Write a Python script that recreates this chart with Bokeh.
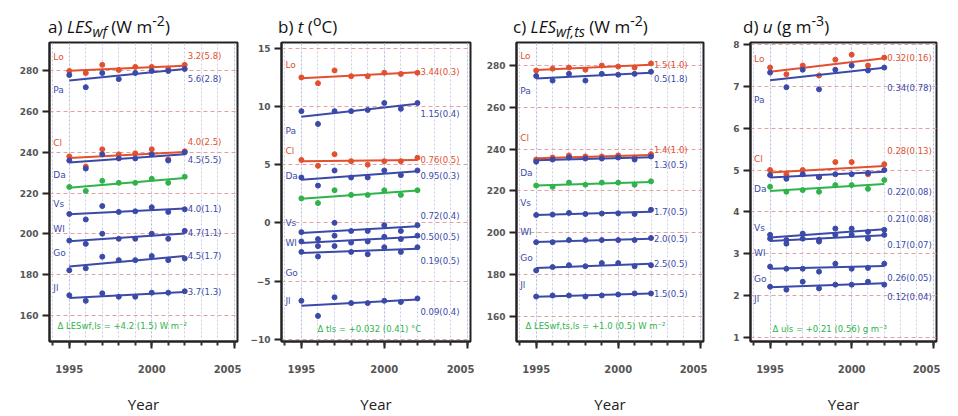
import numpy as np
from bokeh.plotting import figure
from bokeh.models import Div, SingleIntervalTicker, Range1d, ColumnDataSource, Label, Spacer
from bokeh.layouts import row, column
from bokeh.embed import file_html
from bokeh.resources import INLINE
from bokeh.core.properties import value

years = [1995, 1996, 1997, 1998, 1999, 2000, 2001, 2002]
named_sites = ["Lo", "Pa", "Cl", "Da", "Vs", "Wl", "Go", "Jl"]
all_sites = ["Lo", "Pa", "Cl", "Da", "mean", "Vs", "Wl", "Go", "Jl"]

# a) LES_wf (W m-2)
les_wf = {
    "Lo": [280, 279, 283, 280.5, 282, 282, 281, 283],
    "Pa": [278, 272, 279, 276, 279, 280, 280, 281],
    "Cl": [238, 233, 241.5, 239, 239.5, 241.5, 236.5, 240.5],
    "Da": [236, 232, 239, 237, 237, 239, 236, 240],
    "mean": [223, 221, 226, 225, 225, 227, 225, 228],
    "Vs": [209.7, 207, 213.6, 210.7, 211, 213, 210.7, 212],
    "Wl": [196.6, 195, 200, 197.5, 197.5, 200, 197.5, 201.4],
    "Go": [182, 183, 188.7, 187, 187, 189, 187, 187.8],
    "Jl": [169.7, 167, 170.7, 169, 169, 171, 171, 171.7],
}
les_wf_trend = ["3.2(5.8)", "5.6(2.8)", "4.0(2.5)", "4.5(5.5)", "4.0(1.1)", "4.7(1.1)", "4.5(1.7)", "3.7(1.3)"]

# b) t (degC)
temp = {
    "Lo": [12.5, 12.0, 13.1, 12.6, 12.6, 12.9, 12.8, 12.9],
    "Pa": [9.6, 8.5, 9.6, 9.6, 9.7, 10.3, 9.8, 10.3],
    "Cl": [5.4, 4.9, 5.9, 5.3, 5.0, 5.3, 5.3, 5.6],
    "Da": [3.9, 3.2, 4.5, 3.9, 3.9, 4.5, 4.1, 4.5],
    "mean": [2.1, 1.7, 2.8, 2.4, 2.4, 2.8, 2.4, 2.8],
    "Vs": [-0.8, -1.4, 0.0, -0.7, -0.7, -0.2, -0.7, -0.2],
    "Wl": [-1.6, -2.0, -1.1, -1.7, -1.6, -1.2, -1.4, -1.1],
    "Go": [-2.5, -2.9, -2.0, -2.5, -2.7, -2.1, -2.5, -2.1],
    "Jl": [-6.7, -8.0, -6.4, -6.9, -6.9, -6.7, -6.8, -6.5],
}
temp_trend = ["3.44(0.3)", "1.15(0.4)", "0.76(0.5)", "0.95(0.3)", "0.72(0.4)", "0.50(0.5)", "0.19(0.5)", "0.09(0.4)"]

# c) LES_wf,ts (W m-2)
les_wfts = {
    "Lo": [277.6, 278.5, 279, 278, 280, 279.5, 279, 281],
    "Pa": [275, 272.8, 276, 272.8, 276, 275.6, 276, 277],
    "Cl": [235, 236, 237, 236.5, 236.5, 237, 236, 237.6],
    "Da": [234, 235, 236, 235.5, 235.5, 236, 235, 236.5],
    "mean": [222.6, 222, 224, 223, 224, 224, 223, 224.6],
    "Vs": [208.5, 208.7, 209.5, 209, 209.2, 209.3, 209, 211],
    "Wl": [195.5, 195.5, 196.5, 196.5, 196.5, 196.5, 196.5, 197.5],
    "Go": [182, 183.6, 184.5, 184, 185.5, 185.5, 184, 184.5],
    "Jl": [169.5, 170, 170, 169.5, 170, 170.5, 171, 171],
}
les_wfts_trend = ["1.5(1.0)", "0.5(1.8)", "1.4(1.0)", "1.3(0.5)", "1.7(0.5)", "2.0(0.5)", "2.5(0.5)", "1.5(0.5)"]

# d) u (g m-3)
hum = {
    "Lo": [7.45, 7.29, 7.5, 7.26, 7.64, 7.76, 7.5, 7.69],
    "Pa": [7.33, 6.98, 7.4, 6.93, 7.4, 7.5, 7.38, 7.45],
    "Cl": [5.0, 4.9, 5.0, 4.83, 5.19, 5.19, 4.9, 5.14],
    "Da": [4.88, 4.79, 4.9, 4.83, 4.9, 4.9, 4.93, 5.0],
    "mean": [4.6, 4.48, 4.52, 4.48, 4.64, 4.64, 4.55, 4.76],
    "Vs": [3.45, 3.33, 3.48, 3.33, 3.6, 3.6, 3.52, 3.57],
    "Wl": [3.36, 3.24, 3.36, 3.29, 3.45, 3.45, 3.36, 3.45],
    "Go": [2.69, 2.64, 2.64, 2.57, 2.76, 2.64, 2.66, 2.76],
    "Jl": [2.21, 2.14, 2.33, 2.17, 2.26, 2.26, 2.33, 2.26],
}
hum_trend = ["0.32(0.16)", "0.34(0.78)", "0.28(0.13)", "0.22(0.08)", "0.21(0.08)", "0.17(0.07)", "0.26(0.05)", "0.12(0.04)"]

titles = [
    "a) <i>LES<sub>wf</sub></i> (W m<sup>-2</sup>)",
    "b) <i>t</i> (<sup>o</sup>C)",
    "c) <i>LES<sub>wf,ts</sub></i> (W m<sup>-2</sup>)",
    "d) <i>u</i> (g m<sup>-3</sup>)",
]
deltas = [
    "Δ LESwf,ls = +4.2 (1.5) W m⁻²",
    "Δ tls = +0.032 (0.41) °C",
    "Δ LESwf,ts,ls = +1.0 (0.5) W m⁻²",
    "Δ uls = +0.21 (0.56) g m⁻³",
]
panels = [les_wf, temp, les_wfts, hum]
trends = [les_wf_trend, temp_trend, les_wfts_trend, hum_trend]

# ---- styling (not data) ----
RED, BLUE, GREEN = "#e2502f", "#3b4aa8", "#2fb34a"
site_color = {"Lo": RED, "Pa": BLUE, "Cl": RED, "Da": BLUE, "mean": GREEN,
              "Vs": BLUE, "Wl": BLUE, "Go": BLUE, "Jl": BLUE}
y_ranges = [(147, 294), (-10.2, 15.5), (148, 291), (0.9, 8.05)]
y_steps = [20, 5, 20, 1]
title_pad = [40, 37, 39, 36]
border_left = [41, 40, 42, 43]
name_off = [[-14, 10, -15, 12, -10, -12, -13, -10],
            [-13, 14, -10, -4, -10, 0, 20, -5],
            [-14, 13, -20, 13, -12, -10, -10, -12],
            [-13, 20, -14, 12, -10, 12, 10, 12]]
val_off = [[-10, 10, -10, 6, 0, 0, 0, 0],
           [0, 10, 0, 5, -10, 0, 12, 12],
           [0, 6, -5, 8, 0, 0, 0, 0],
           [0, 20, -15, 20, -10, 10, 12, 14]]
delta_pos = [(8, 11), (36, 8), (9, 11), (22, 8)]

divs, figs = [], []
for k in range(4):
    data = panels[k]
    divs.append(Div(text=titles[k], width=233, height=30,
                    styles={"font-family": "Open Sans", "font-size": "17px", "color": "#111",
                            "padding": "0px", "margin": "0px", "line-height": "26px",
                            "text-indent": f"{title_pad[k]}px", "white-space": "nowrap",
                            "overflow": "visible"}))
    p = figure(width=233, height=378, output_backend="svg", toolbar_location=None,
               x_range=Range1d(1993.8, 2005.2), y_range=Range1d(*y_ranges[k]),
               min_border_left=border_left[k], min_border_right=4, min_border_top=4,
               min_border_bottom=60)
    p.background_fill_color = "white"
    p.border_fill_color = "white"
    p.outline_line_color = "#222"
    p.outline_line_width = 2
    p.xaxis.ticker = SingleIntervalTicker(interval=5, num_minor_ticks=5)
    p.yaxis.ticker = SingleIntervalTicker(interval=y_steps[k], num_minor_ticks=0)
    p.axis.axis_line_width = 2
    p.axis.axis_line_color = "#222"
    p.axis.major_tick_line_color = "#222"
    p.axis.major_tick_line_width = 2
    p.axis.major_tick_out = 7
    p.axis.major_tick_in = 0
    p.xaxis.minor_tick_out = 4
    p.xaxis.minor_tick_in = 0
    p.xaxis.minor_tick_line_color = "#333"
    p.xaxis.minor_tick_line_width = 2
    p.yaxis.minor_tick_line_color = None
    p.axis.major_label_text_font = "DejaVu Sans"
    p.axis.major_label_text_font_style = "bold"
    p.axis.major_label_text_color = "#555"
    p.xaxis.major_label_text_font_size = "10px"
    p.yaxis.major_label_text_font_size = "9px"
    p.xaxis.major_label_standoff = 16
    p.yaxis.major_label_standoff = 4
    p.xaxis.axis_label = "Year"
    p.xaxis.axis_label_text_font = "Open Sans"
    p.xaxis.axis_label_text_font_size = "15px"
    p.xaxis.axis_label_text_font_style = "normal"
    p.xaxis.axis_label_text_color = "#222"
    p.xaxis.axis_label_standoff = 18
    p.xgrid.grid_line_color = "#b9c0e2"
    p.xgrid.grid_line_dash = "2 2"
    p.xgrid.minor_grid_line_color = "#c9cdea"
    p.xgrid.minor_grid_line_dash = "2 2"
    p.ygrid.grid_line_color = "#e3a2a2"
    p.ygrid.grid_line_dash = "4 3"

    for s in all_sites:
        vals = np.array(data[s], dtype=float)
        c = site_color[s]
        slope, icpt = np.polyfit(years, vals, 1)
        ends = [years[0], years[-1]]
        p.line(ends, [slope * x + icpt for x in ends], line_color=c, line_width=2)
        p.scatter(years, vals, size=5, marker="circle", fill_color=c, line_color=c)

    first, last, cols = [], [], []
    for s in named_sites:
        vals = np.array(data[s], dtype=float)
        slope, icpt = np.polyfit(years, vals, 1)
        first.append(slope * years[0] + icpt)
        last.append(slope * years[-1] + icpt)
        cols.append(site_color[s])
    src_n = ColumnDataSource(dict(x=[years[0]] * 8, y=first, t=named_sites, c=cols, dy=name_off[k]))
    p.text(x="x", y="y", text="t", text_color="c", y_offset="dy", x_offset=-16, source=src_n,
           text_font=value("DejaVu Sans"), text_font_size=value("9px"),
           text_baseline="middle", text_align="left")
    src_v = ColumnDataSource(dict(x=[years[-1]] * 8, y=last, t=trends[k], c=cols, dy=val_off[k]))
    p.text(x="x", y="y", text="t", text_color="c", y_offset="dy", x_offset=3, source=src_v,
           text_font=value("DejaVu Sans"), text_font_size=value("8.5px"),
           text_baseline="middle", text_align="left")
    p.add_layout(Label(x=delta_pos[k][0], y=delta_pos[k][1], x_units="screen", y_units="screen",
                       text=deltas[k], text_color=GREEN, text_font="DejaVu Sans",
                       text_font_size="8.5px"))
    figs.append(p)

layout = column(Spacer(height=8),
                row(Spacer(width=8), *divs),
                row(Spacer(width=8), *figs))
open("out.html", "w").write(file_html(layout, INLINE))
